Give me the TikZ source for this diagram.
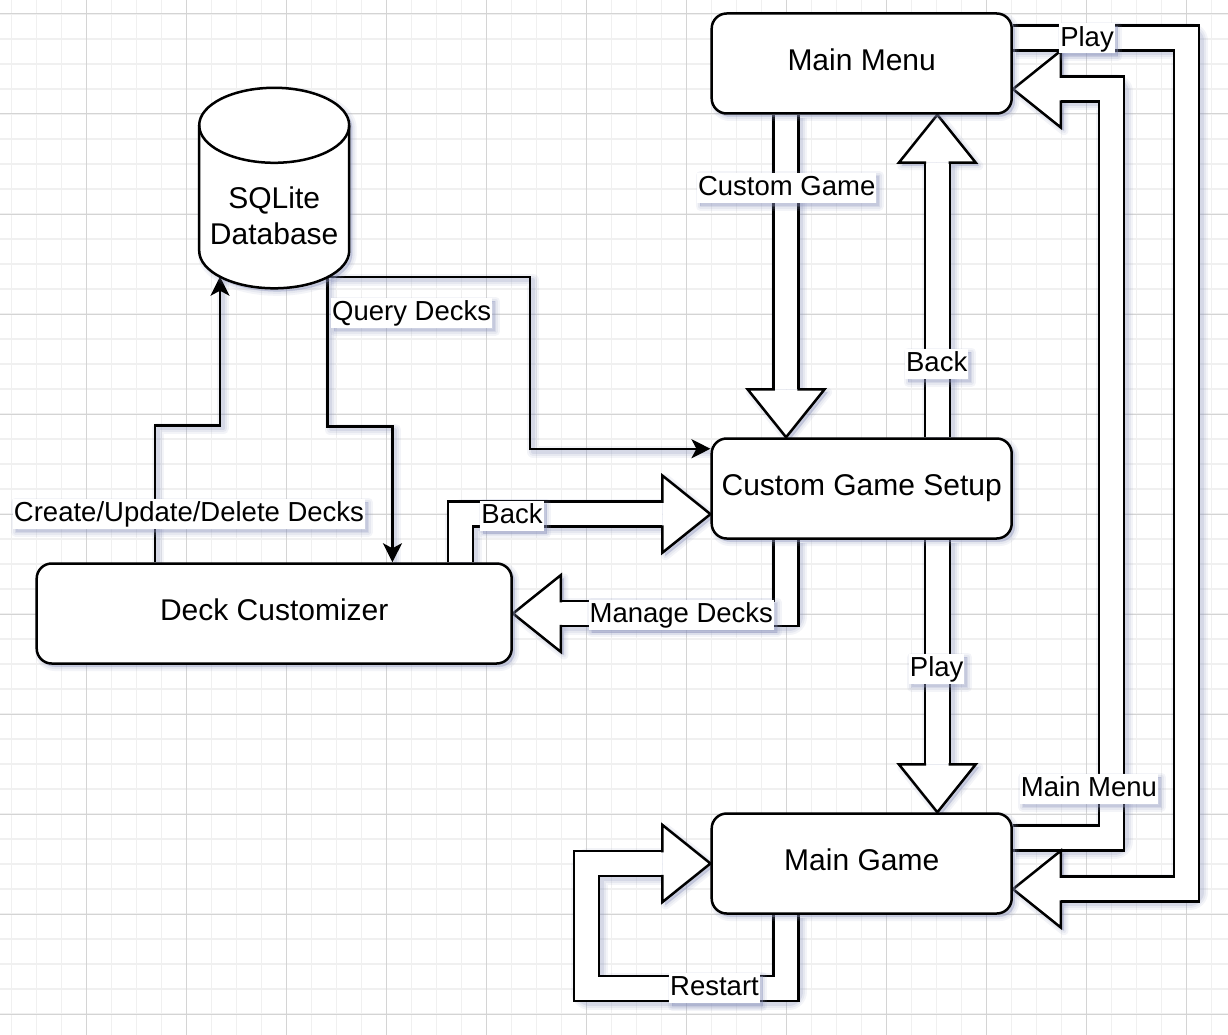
\documentclass[tikz,border=0pt]{standalone}
\usepackage{fontspec}
\setmainfont{Liberation Sans}
\usetikzlibrary{arrows.meta,calc,shadows}
\definecolor{shadowc}{RGB}{140,148,190}
\definecolor{gridminor}{RGB}{240,240,240}
\definecolor{gridmajor}{RGB}{212,212,212}
\newcommand\nodefont{\fontsize{30}{36}\selectfont}
\newcommand\lblfont{\fontsize{27.5}{33}\selectfont}
\newcommand\fahead[2]{%
  \begin{scope}[shift={(#1)},rotate=#2]
    \fill[white] (0,0) -- (-48,38.5) -- (-48,-38.5) -- cycle;
    \draw[line width=2.5pt,line join=miter] (-48,11.25) -- (-48,38.5) -- (0,0) -- (-48,-38.5) -- (-48,-11.25);
  \end{scope}}
% shadow of a head: #1 tip, #2 angle, #3 extra blur width, #4 opacity
\newcommand\faheadsh[4]{%
  \begin{scope}[shift={(#1)},xshift=3pt,yshift=-3pt,rotate=#2]
    \path[fill=shadowc,draw=shadowc,line width=#3pt,line join=round,opacity=#4] (0,0) -- (-48,38.5) -- (-48,-38.5) -- cycle;
  \end{scope}}
\pgfdeclarelayer{gridlayer}
\pgfdeclarelayer{arrowlayer}
\pgfsetlayers{gridlayer,arrowlayer,main}
\begin{document}
\begin{tikzpicture}[x=1pt,y=-1pt,
  softshadow/.style={
    drop shadow={shadow xshift=3pt,shadow yshift=-3pt,fill=shadowc,draw=shadowc,line join=round,line width=9pt,opacity=0.10},
    drop shadow={shadow xshift=3pt,shadow yshift=-3pt,fill=shadowc,draw=shadowc,line join=round,line width=5pt,opacity=0.12},
    drop shadow={shadow xshift=3pt,shadow yshift=-3pt,fill=shadowc,draw=shadowc,line join=round,line width=1pt,opacity=0.18}},
  box/.style={draw,line width=2.5pt,rounded corners=15pt,fill=white,minimum width=300pt,minimum height=100pt,inner sep=0pt,font=\nodefont,text height=21.5pt,text depth=7.5pt,softshadow},
  lbl/.style={fill=white,font=\lblfont,inner xsep=1pt,inner ysep=1pt,text height=21.7pt,text depth=6.3pt,softshadow},
  shaft/.style={line width=2.5pt,double=white,double distance=22.5pt,line join=miter},
  shaftsh/.style={draw=shadowc,line join=round,transform canvas={xshift=3pt,yshift=-3pt}},
  conn/.style={line width=2.5pt,line join=miter,-{Stealth[length=19pt,width=19pt,inset=5pt]}},
]
\useasboundingbox (0,0) rectangle (1228,1035);
% ---------- grid ----------
\begin{pgfonlayer}{gridlayer}
\fill[white] (0,0) rectangle (1228,1035);
\foreach \i in {0,...,48} \draw[gridminor,line width=1.5pt] ({11.7+25*\i},0) -- ({11.7+25*\i},1035);
\foreach \j in {0,...,41} \draw[gridminor,line width=1.5pt] (0,{14+25*\j}) -- (1228,{14+25*\j});
\foreach \i in {0,...,11} \draw[gridmajor,line width=1pt] ({86.7+100*\i},0) -- ({86.7+100*\i},1035);
\foreach \j in {0,...,10} \draw[gridmajor,line width=1pt] (0,{14+100*\j}) -- (1228,{14+100*\j});
\end{pgfonlayer}
% ---------- nodes ----------
\node[box] (mm) at (861.7,63.5) {Main Menu};
\node[box] (cgs) at (861.7,488.5) {Custom Game Setup};
\node[box] (mg) at (861.7,863.5) {Main Game};
\node[box,minimum width=475pt] (dc) at (274.2,613.5) {Deck Customizer};
% database cylinder
\path[draw,line width=2.5pt,fill=white,softshadow]
  (199.2,125.3) -- (199.2,250.8) .. controls (199.2,271.5) and (232.8,288.3) .. (274.2,288.3)
  .. controls (315.6,288.3) and (349.2,271.5) .. (349.2,250.8) -- (349.2,125.3)
  .. controls (349.2,104.6) and (315.6,87.8) .. (274.2,87.8)
  .. controls (232.8,87.8) and (199.2,104.6) .. (199.2,125.3) -- cycle;
\draw[line width=2.5pt] (199.2,125.3) .. controls (199.2,146) and (232.8,162.8) .. (274.2,162.8)
  .. controls (315.6,162.8) and (349.2,146) .. (349.2,125.3);
\node[font=\nodefont,align=center,inner sep=0pt] (db) at (274.2,216) {SQLite\\Database};
% ---------- anchor coordinates ----------
\coordinate (mmS1) at ($(mm.south west)!0.25!(mm.south east)$);
\coordinate (mmS3) at ($(mm.south west)!0.75!(mm.south east)$);
\coordinate (cgsN1) at ($(cgs.north west)!0.25!(cgs.north east)$);
\coordinate (cgsN3) at ($(cgs.north west)!0.75!(cgs.north east)$);
\coordinate (cgsS1) at ($(cgs.south west)!0.25!(cgs.south east)$);
\coordinate (cgsS3) at ($(cgs.south west)!0.75!(cgs.south east)$);
\coordinate (mgN3) at ($(mg.north west)!0.75!(mg.north east)$);
\coordinate (mgS1) at ($(mg.south west)!0.25!(mg.south east)$);
\coordinate (cgsW3) at ($(cgs.north west)!0.75!(cgs.south west)$);
\coordinate (mgW) at (mg.west);
\coordinate (mmE1) at ($(mm.north east)!0.25!(mm.south east)$);
\coordinate (mmE3) at ($(mm.north east)!0.75!(mm.south east)$);
\coordinate (mgE1) at ($(mg.north east)!0.25!(mg.south east)$);
\coordinate (mgE3) at ($(mg.north east)!0.75!(mg.south east)$);
\coordinate (dcE) at (dc.east);
\coordinate (dcNb) at ($(dc.north west)+(425,0)$);
\coordinate (dcNq) at ($(dc.north west)+(357,0)$);
\coordinate (dcNc) at ($(dc.north west)+(119.5,0)$);
\coordinate (cgsQ) at ($(cgs.north west)+(0,11.5)$);
\coordinate (dbq) at (327.5,277.2);
\coordinate (dbc) at (220,276.7);
% ---------- connectors ----------
\begin{pgfonlayer}{arrowlayer}
% soft shadows (three layers)
\foreach \e/\o in {9/0.10,5/0.12,1/0.18} {
  \draw[shaftsh,line width={27.5pt+\e pt},draw opacity=\o] (mmS1) -- ($(cgsN1)+(0,-48)$);
  \draw[shaftsh,line width={27.5pt+\e pt},draw opacity=\o] (cgsN3) -- ($(mmS3)+(0,48)$);
  \draw[shaftsh,line width={27.5pt+\e pt},draw opacity=\o] (cgsS3) -- ($(mgN3)+(0,-48)$);
  \draw[shaftsh,line width={27.5pt+\e pt},draw opacity=\o] (cgsS1) |- ($(dcE)+(48,0)$);
  \draw[shaftsh,line width={27.5pt+\e pt},draw opacity=\o] (dcNb) |- ($(cgsW3)+(-48,0)$);
  \draw[shaftsh,line width={27.5pt+\e pt},draw opacity=\o] (mgS1) -- ++(0,73.5) -| ($(mgW)+(-124,0)$) -- ($(mgW)+(-48,0)$);
  \draw[shaftsh,line width={27.5pt+\e pt},draw opacity=\o] (mgE1) -| ($(mmE3)+(98.75,0)$) -- ($(mmE3)+(48,0)$);
  \draw[shaftsh,line width={27.5pt+\e pt},draw opacity=\o] (mmE1) -| ($(mgE3)+(173.75,0)$) -- ($(mgE3)+(48,0)$);
  \faheadsh{cgsN1}{-90}{\e}{\o}
  \faheadsh{mmS3}{90}{\e}{\o}
  \faheadsh{mgN3}{-90}{\e}{\o}
  \faheadsh{dcE}{180}{\e}{\o}
  \faheadsh{cgsW3}{0}{\e}{\o}
  \faheadsh{mgW}{0}{\e}{\o}
  \faheadsh{mmE3}{180}{\e}{\o}
  \faheadsh{mgE3}{180}{\e}{\o}
  \draw[shaftsh,line width={2.5pt+\e pt},draw opacity=\o] (dbq) -| ($(cgsQ)+(-180.45,0)$) -- (cgsQ);
  \draw[shaftsh,line width={2.5pt+\e pt},draw opacity=\o] (dbq) -- ++(0,149.5) -| (dcNq);
  \draw[shaftsh,line width={2.5pt+\e pt},draw opacity=\o] (dcNc) -- ++(0,-136.8) -| (dbc);
}
% block arrows
\draw[shaft] (mmS1) -- ($(cgsN1)+(0,-48)$);
\draw[shaft] (cgsN3) -- ($(mmS3)+(0,48)$);
\draw[shaft] (cgsS3) -- ($(mgN3)+(0,-48)$);
\draw[shaft] (cgsS1) |- ($(dcE)+(48,0)$);
\draw[shaft] (dcNb) |- ($(cgsW3)+(-48,0)$);
\draw[shaft] (mgS1) -- ++(0,73.5) -| ($(mgW)+(-124,0)$) -- ($(mgW)+(-48,0)$);
\draw[shaft] (mmE1) -| ($(mgE3)+(173.75,0)$) -- ($(mgE3)+(48,0)$);
\draw[shaft] (mgE1) -| ($(mmE3)+(98.75,0)$) -- ($(mmE3)+(48,0)$);
\fahead{cgsN1}{-90}
\fahead{mmS3}{90}
\fahead{mgN3}{-90}
\fahead{dcE}{180}
\fahead{cgsW3}{0}
\fahead{mgW}{0}
\fahead{mgE3}{180}
\fahead{mmE3}{180}
% thin arrows
\draw[conn] (dbq) -| ($(cgsQ)+(-180.45,0)$) -- (cgsQ);
\draw[conn] (dbq) -- ++(0,149.5) -| (dcNq);
\draw[conn] (dcNc) -- ++(0,-136.8) -| (dbc);
\end{pgfonlayer}
% ---------- labels ----------
\node[lbl] (lcg) at (786.7,188) {Custom Game};
\node[lbl] (lbk1) at (936.7,364) {Back};
\node[lbl] (lpl1) at (936.7,669) {Play};
\node[lbl] (lmd) at (681.3,614.5) {Manage Decks};
\node[lbl] (lbk2) at (512,515.5) {Back};
\node[lbl] (lrs) at (714.5,988) {Restart};
\node[lbl] (lpl2) at (1087,38.5) {Play};
\node[lbl] (lmm) at (1089,789) {Main Menu};
\node[lbl] (lqd) at (411.7,313) {Query Decks};
\node[lbl] (lcud) at (189,514) {Create/Update/Delete Decks};
\end{tikzpicture}
\end{document}
